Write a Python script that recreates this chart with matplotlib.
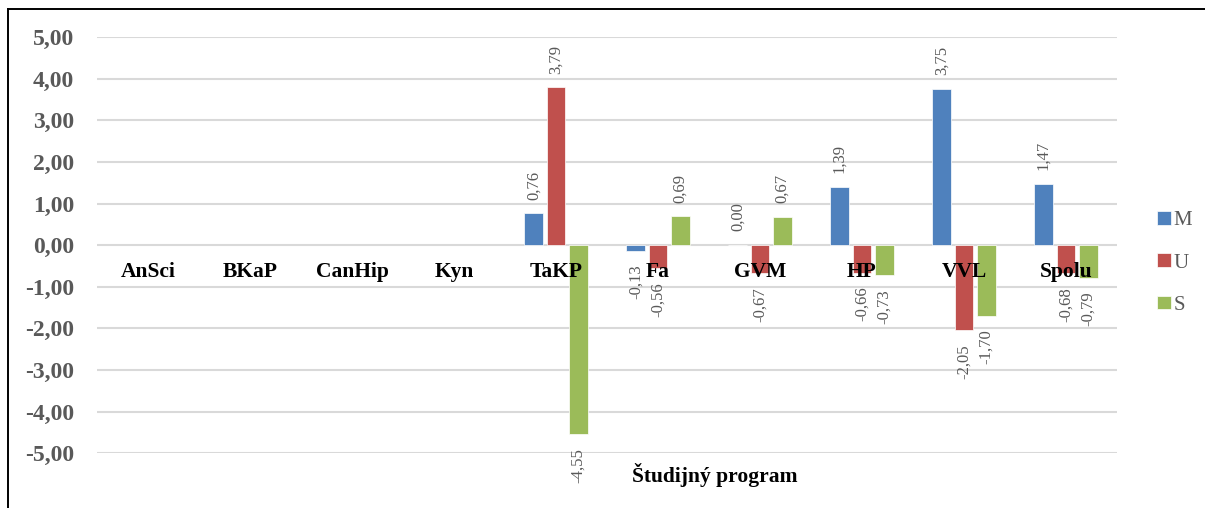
import numpy as np
import matplotlib.pyplot as plt
from matplotlib.lines import Line2D

# Chart data
programs = ["AnSci", "BKaP", "CanHip", "Kyn", "TaKP", "Fa", "GVM", "HP", "VVL", "Spolu"]
m_vals = [np.nan, np.nan, np.nan, np.nan, 0.76, -0.13, 0.00, 1.39, 3.75, 1.47]
u_vals = [np.nan, np.nan, np.nan, np.nan, 3.79, -0.56, -0.67, -0.66, -2.05, -0.68]
s_vals = [np.nan, np.nan, np.nan, np.nan, -4.55, 0.69, 0.67, -0.73, -1.70, -0.79]
series_names = ["M", "U", "S"]
colors = ["#4f81bd", "#c0504d", "#9bbb59"]

plt.rcParams["font.family"] = ["Liberation Serif", "DejaVu Serif"]

fig = plt.figure(figsize=(12.05, 5.08), dpi=100)
ax = fig.add_axes([0.0805, 0.108, 0.8465, 0.819])

# Document box: top and left border only
fig.lines.append(Line2D([8 / 1205, 1], [1 - 9 / 508, 1 - 9 / 508],
                        transform=fig.transFigure, color="black", linewidth=1.4))
fig.lines.append(Line2D([8 / 1205, 8 / 1205], [0, 1 - 9 / 508],
                        transform=fig.transFigure, color="black", linewidth=1.4))

x = np.arange(len(programs))
width = 0.18
step = 0.22

for i, (vals, name, col) in enumerate(zip([m_vals, u_vals, s_vals], series_names, colors)):
    pos = x + (i - 1) * step
    ax.bar(pos, vals, width, color=col, label=name, edgecolor="white", linewidth=0.5, zorder=3)
    for px, v in zip(pos, vals):
        if np.isnan(v):
            continue
        txt = f"{v:.2f}".replace(".", ",")
        if v >= 0:
            ax.annotate(txt, (px, v), xytext=(0, 10), textcoords="offset points",
                        rotation=90, ha="center", va="bottom", fontsize=12, color="#595959")
        else:
            ax.annotate(txt, (px, v), xytext=(0, -10), textcoords="offset points",
                        rotation=90, ha="center", va="top", fontsize=12, color="#595959")

ax.set_xlim(-0.5, len(programs) - 0.5)
ax.set_ylim(-5, 5)
ax.set_yticks(np.arange(-5, 6, 1))
ax.set_yticklabels([f"{t:.2f}".replace(".", ",") for t in np.arange(-5, 6, 1)],
                   fontsize=17, fontweight="bold", color="#595959")
ax.tick_params(axis="y", length=0, pad=16.5)
ax.set_xticks([])
ax.grid(axis="y", color="#d9d9d9", linewidth=1.5, zorder=0)
for sp in ax.spines.values():
    sp.set_visible(False)

# Category labels drawn inside plot below zero line
for xi, name in zip(x, programs):
    ax.text(xi, -0.65, name, ha="center", va="center", fontsize=15.5,
            fontweight="bold", color="black", zorder=4)

fig.text(715 / 1205, 1 - 475 / 508, "Študijný program", ha="center", va="center",
         fontsize=15.5, fontweight="bold")

ax.legend(loc="center left", bbox_to_anchor=(1.021, 0.457), frameon=False,
          handlelength=0.65, handleheight=0.65, handletextpad=0.15, labelspacing=1.1,
          prop={"size": 15}, labelcolor="#595959")

fig.savefig("out.png", dpi=100)
